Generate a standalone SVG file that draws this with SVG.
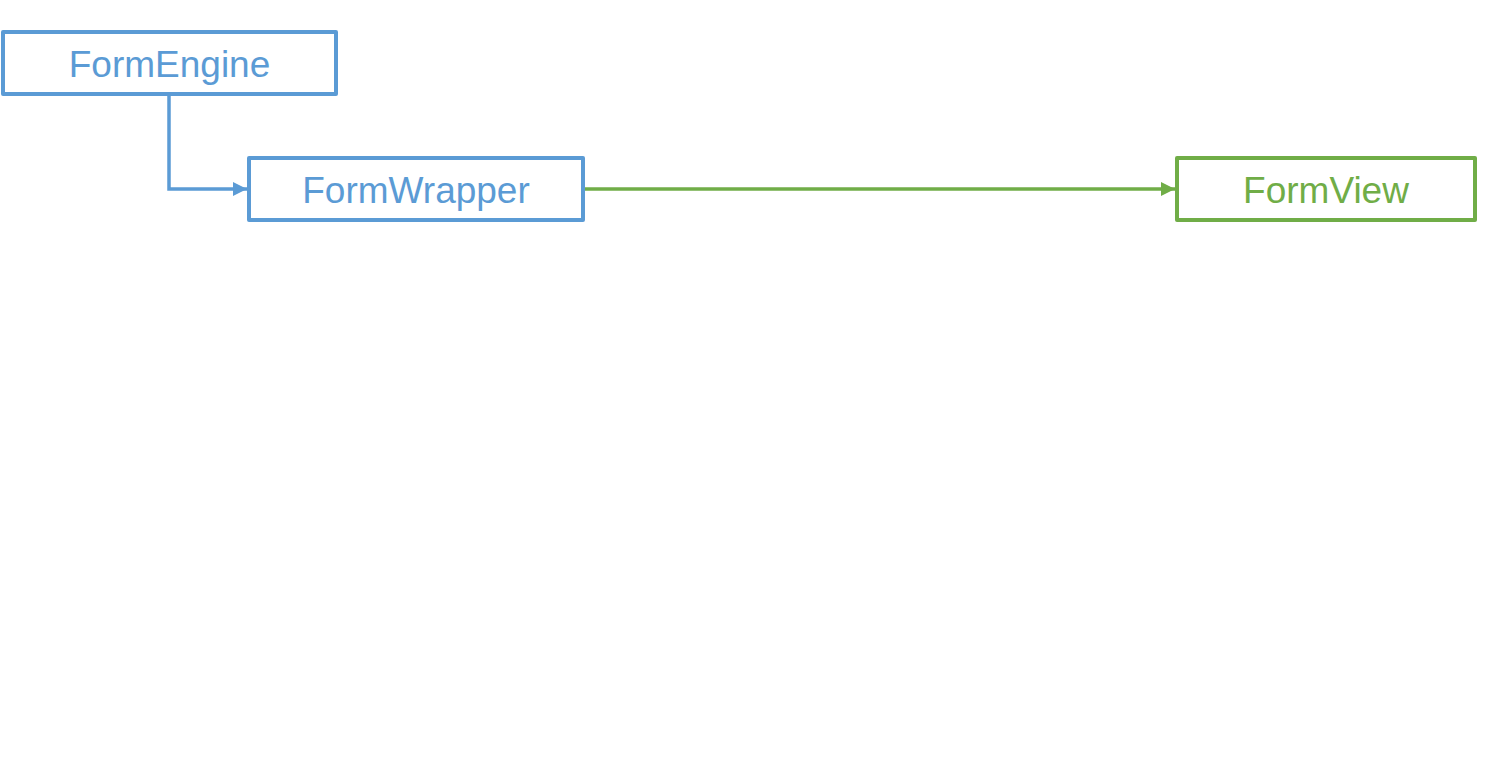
<svg xmlns="http://www.w3.org/2000/svg" width="1495" height="775" viewBox="0 0 1495 775">
<style>
.box{fill:#fff;stroke-width:4;stroke-linejoin:round}
.blue{stroke:#5B9BD5}
.green{stroke:#70AD47}
.lbl{font-family:"Liberation Sans",Arial,sans-serif;font-size:37px;text-anchor:middle;dominant-baseline:central}
.conn{fill:none;stroke-width:3.5}
</style>
<defs>
<marker id="ab" viewBox="0 0 10 10" refX="10" refY="5" markerWidth="14" markerHeight="14" markerUnits="userSpaceOnUse" orient="auto"><path d="M0,0L10,5L0,10z" fill="#5B9BD5"/></marker>
<marker id="ag" viewBox="0 0 10 10" refX="10" refY="5" markerWidth="14" markerHeight="14" markerUnits="userSpaceOnUse" orient="auto"><path d="M0,0L10,5L0,10z" fill="#70AD47"/></marker>
</defs>
<rect width="1495" height="775" fill="#fff"/>
<g id="connectors">
<path class="conn" stroke="#5B9BD5" d="M169,94V189H247" marker-end="url(#ab)"/>
<path class="conn" stroke="#70AD47" d="M583,189H1175" marker-end="url(#ag)"/>
</g>
<g id="FormEngine">
<rect class="box blue" x="3" y="32" width="333" height="62"/>
<text class="lbl" x="169.5" y="64" fill="#5B9BD5">FormEngine</text>
</g>
<g id="FormWrapper">
<rect class="box blue" x="249" y="158" width="334" height="62"/>
<text class="lbl" x="416" y="190" fill="#5B9BD5">FormWrapper</text>
</g>
<g id="FormView">
<rect class="box green" x="1177" y="158" width="298" height="62"/>
<text class="lbl" x="1326" y="190" fill="#70AD47">FormView</text>
</g>
</svg>
